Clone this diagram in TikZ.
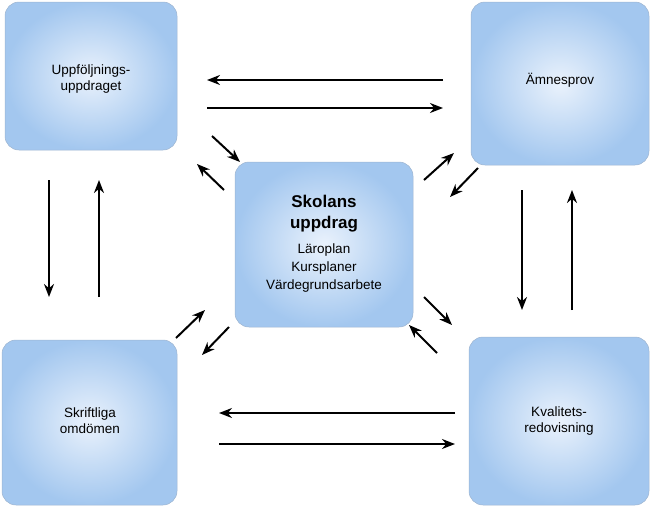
\documentclass[tikz,border=0pt]{standalone}
\usepackage{fontspec}
\setmainfont{Liberation Sans}
\usetikzlibrary{arrows.meta}
\definecolor{boxin}{HTML}{EAF2FC}
\definecolor{boxout}{HTML}{A3C7EF}
\definecolor{boxline}{HTML}{9DB4D0}
\begin{document}
\begin{tikzpicture}[x=1pt,y=-1pt,
  box/.style={draw=boxline, line width=0.5pt, rounded corners=14pt, inner color=boxin, outer color=boxout},
  lbl/.style={align=center, font=\fontsize{13.5}{16}\selectfont},
  arr/.style={line width=2pt, -{Stealth[length=13pt,width=10pt]}}]
\useasboundingbox (0,0) rectangle (651,507);
\shade[box] (5,2) rectangle (177,150);
\shade[box] (471,2) rectangle (649,165);
\shade[box] (235,162) rectangle (413,327);
\shade[box] (2,340) rectangle (177,505);
\shade[box] (469,337) rectangle (649,505);
\node[lbl] (tl) at (91,79) {Uppföljnings-\\uppdraget};
\node[lbl] (tr) at (560,80) {Ämnesprov};
\node[lbl] (bl) at (90,421) {Skriftliga\\omdömen};
\node[lbl] (br) at (559,421) {Kvalitets-\\redovisning};
\node[align=center, font=\fontsize{17}{21}\selectfont\bfseries] (ct) at (324,214) {Skolans\\uppdrag};
\node[lbl, font=\fontsize{13.5}{18}\selectfont] (cb) at (324,268) {Läroplan\\Kursplaner\\Värdegrundsarbete};
\coordinate (a1) at (443,80); \coordinate (a2) at (207,80);
\coordinate (b1) at (207,108); \coordinate (b2) at (443,108);
\coordinate (c1) at (455,413); \coordinate (c2) at (219,413);
\coordinate (d1) at (219,444); \coordinate (d2) at (455,444);
\coordinate (e1) at (49,180); \coordinate (e2) at (49,297);
\coordinate (f1) at (99,297); \coordinate (f2) at (99,180);
\coordinate (g1) at (522,190); \coordinate (g2) at (522,310);
\coordinate (h1) at (572,310); \coordinate (h2) at (572,190);
\coordinate (i1) at (212,136); \coordinate (i2) at (240,162);
\coordinate (j1) at (224,190); \coordinate (j2) at (197,164);
\coordinate (k1) at (424,180); \coordinate (k2) at (454,153);
\coordinate (l1) at (478,168); \coordinate (l2) at (450,197);
\coordinate (m1) at (176,338); \coordinate (m2) at (205,310);
\coordinate (n1) at (229,327); \coordinate (n2) at (202,355);
\coordinate (o1) at (424,297); \coordinate (o2) at (452,325);
\coordinate (p1) at (437,353); \coordinate (p2) at (409,325);
\foreach \s in {a,b,c,d,e,f,g,h,i,j,k,l,m,n,o,p} \draw[arr] (\s1) -- (\s2);
\end{tikzpicture}
\end{document}
